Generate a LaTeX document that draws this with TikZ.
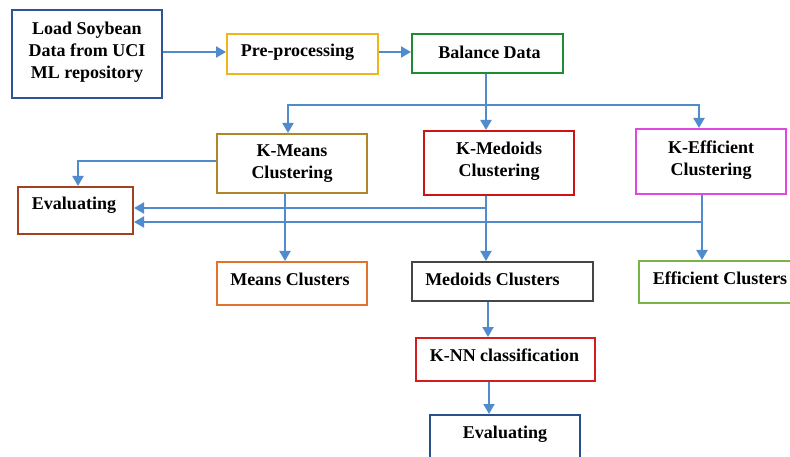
\documentclass[tikz,border=0pt]{standalone}
\usepackage{fontspec}
\setmainfont{Liberation Serif}
\usetikzlibrary{arrows.meta,calc}
\definecolor{loadc}{RGB}{47,85,151}
\definecolor{prec}{RGB}{240,180,30}
\definecolor{balc}{RGB}{30,140,50}
\definecolor{kmeansc}{RGB}{175,135,40}
\definecolor{kmedc}{RGB}{205,20,20}
\definecolor{keffc}{RGB}{225,70,225}
\definecolor{evalac}{RGB}{165,65,35}
\definecolor{meansc}{RGB}{225,115,45}
\definecolor{medcc}{RGB}{70,70,70}
\definecolor{effcc}{RGB}{120,180,70}
\definecolor{knnc}{RGB}{210,30,30}
\definecolor{evalbc}{RGB}{40,80,140}
\definecolor{arrowc}{RGB}{80,140,205}
\newcommand\txtsh[3]{\raisebox{#2}[\height][\depth]{\hspace*{#1}#3\hspace*{-#1}}}
\newcommand\tlines[1]{\begin{tabular}{@{}c@{}}#1\end{tabular}}
\begin{document}
\begin{tikzpicture}[x=1pt,y=-1pt,
  box/.style={draw=#1, line width=2pt, fill=white, inner sep=0pt,
    font=\fontsize{18}{22}\selectfont\bfseries},
  arr/.style={draw=arrowc, line width=2pt, -{Triangle[length=10pt,width=11pt]}},
  ln/.style={draw=arrowc, line width=2pt}]
\useasboundingbox (0,0) rectangle (790,457);
\fill[white] (0,0) rectangle (790,457);
% boxes
\node[box=loadc, minimum width=150pt, minimum height=88pt] (load) at (87,54)
  {\raisebox{1.5pt}[\height][\depth]{\tlines{Load Soybean\\Data from UCI\\ML repository}}};
\node[box=prec, minimum width=151pt, minimum height=40pt] (pre) at (302.5,54)
  {\txtsh{-5pt}{1.5pt}{Pre-processing}};
\node[box=balc, minimum width=151pt, minimum height=39pt] (bal) at (487.5,53.5)
  {\txtsh{2pt}{1pt}{Balance Data}};
\node[box=kmeansc, minimum width=150pt, minimum height=59pt] (kmeans) at (292,163.5)
  {\tlines{K-Means\\Clustering}};
\node[box=kmedc, minimum width=150pt, minimum height=64pt] (kmed) at (499,163)
  {\raisebox{2pt}[\height][\depth]{\tlines{K-Medoids\\Clustering}}};
\node[box=keffc, minimum width=150pt, minimum height=65pt] (keff) at (711,161.5)
  {\raisebox{1pt}[\height][\depth]{\tlines{K-Efficient\\Clustering}}};
\node[box=evalac, minimum width=115pt, minimum height=47pt] (eval1) at (75.5,210.5)
  {\txtsh{-1.5pt}{5pt}{Evaluating}};
\node[box=meansc, minimum width=150pt, minimum height=43pt] (means) at (292,283.5)
  {\txtsh{-2pt}{4.5pt}{Means Clusters}};
\node[box=medcc, minimum width=181pt, minimum height=39pt] (medc) at (502.5,281.5)
  {\txtsh{-10pt}{2.5pt}{Medoids Clusters}};
\node[box=effcc, minimum width=162pt, minimum height=42pt] (effc) at (720,282)
  {\txtsh{0pt}{4pt}{Efficient Clusters}};
\node[box=knnc, minimum width=179pt, minimum height=43pt] (knn) at (505.5,359.5)
  {\txtsh{-1pt}{4pt}{K-NN classification}};
\node[box=evalbc, minimum width=150pt, minimum height=47pt] (eval2) at (505,438.5)
  {\txtsh{0pt}{4.5pt}{Evaluating}};
% connectors
\draw[arr] ($(load.east)+(0,-2)$) -- ($(pre.west)+(0,-2)$);
\draw[arr] ($(pre.east)+(0,-2)$) coordinate (p0) -- (p0 -| bal.west);
\coordinate (sp) at (486,105);
\draw[ln] (bal.south -| sp) -- (sp);
\draw[arr] (sp) -- (sp |- kmed.north);
\draw[arr] (sp) -| ($(kmeans.north)+(-4,0)$);
\draw[arr] (sp) -| ($(keff.north)+(-12,0)$);
\draw[arr] ($(kmeans.west)+(0,-2.5)$) -| ($(eval1.north)+(2.5,0)$);
\draw[arr] ($(kmeans.south)+(-7,0)$) coordinate (ms) -- (ms |- means.north);
\draw[arr] (kmed.south -| sp) -- (medc.north -| sp);
\coordinate (m1) at (486,208);
\draw[arr] (m1) -- (m1 -| eval1.east);
\draw[arr] ($(keff.south)+(-9,0)$) coordinate (e0) -- (e0 |- effc.north);
\coordinate (m2) at (702,222);
\draw[arr] (m2) -- (m2 -| eval1.east);
\draw[arr] ($(medc.south)+(-14.5,0)$) coordinate (d0) -- (d0 |- knn.north);
\draw[arr] ($(knn.south)+(-16.5,0)$) coordinate (k0) -- (k0 |- eval2.north);
\end{tikzpicture}
\end{document}
